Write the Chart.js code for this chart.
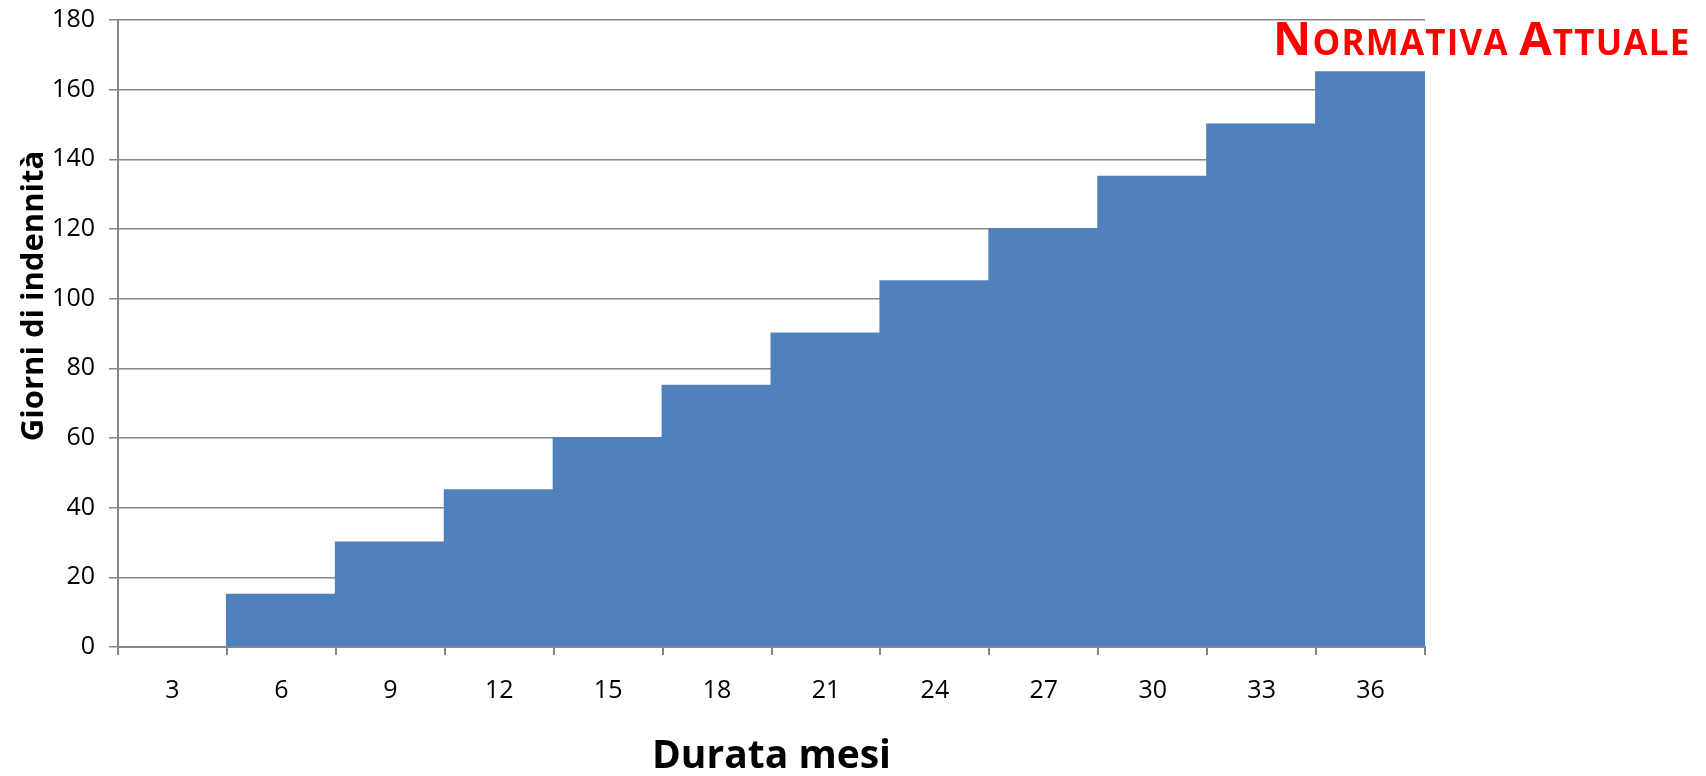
<!DOCTYPE html>
<html>
<head>
<meta charset="utf-8">
<script src="https://cdn.jsdelivr.net/npm/chart.js@4/dist/chart.umd.min.js"></script>
<style>
  html, body { margin: 0; padding: 0; background: #ffffff; }
  #wrap { position: relative; width: 1706px; height: 776px; }
</style>
</head>
<body>
<div id="wrap"><canvas id="chart" width="1706" height="776"></canvas></div>
<script>
// Durata del contratto (mesi) e giorni di indennità corrispondenti
const mesi = ['3', '6', '9', '12', '15', '18', '21', '24', '27', '30', '33', '36'];
const giorniIndennita = [0, 15, 30, 45, 60, 75, 90, 105, 120, 135, 150, 165];
const yTicks = [0, 20, 40, 60, 80, 100, 120, 140, 160, 180];

const titoloParti = [
  { text: 'N', big: true },
  { text: 'ORMATIVA ', big: false },
  { text: 'A', big: true },
  { text: 'TTUALE', big: false }
];
const titoloAsseX = 'Durata mesi';
const titoloAsseY = 'Giorni di indennità';

const axisGrey = '#868686';
const font = "'Open Sans', 'Liberation Sans', sans-serif";

// Titolo in maiuscoletto e titoli degli assi
const testiPlugin = {
  id: 'testiGrafico',
  afterDraw(chart) {
    const ctx = chart.ctx;
    const area = chart.chartArea;
    ctx.save();

    // Titolo rosso in alto a destra
    ctx.fillStyle = '#ff0000';
    ctx.textBaseline = 'alphabetic';
    ctx.textAlign = 'left';
    let x = 1273;
    const baseline = 55;
    const spacing = 1.2;
    for (const p of titoloParti) {
      ctx.font = 'bold ' + (p.big ? 47 : 35) + 'px ' + font;
      for (const ch of p.text) {
        ctx.fillText(ch, x, baseline);
        x += ctx.measureText(ch).width + spacing;
      }
    }

    // Titolo asse X
    ctx.fillStyle = '#000000';
    ctx.textAlign = 'center';
    ctx.font = 'bold 39px ' + font;
    ctx.fillText(titoloAsseX, (area.left + area.right) / 2, 768);

    // Titolo asse Y (ruotato)
    ctx.translate(43, 296);
    ctx.rotate(-Math.PI / 2);
    ctx.font = 'bold 31px ' + font;
    ctx.fillText(titoloAsseY, 0, 0);

    ctx.restore();
  }
};

new Chart(document.getElementById('chart'), {
  type: 'bar',
  data: {
    labels: mesi,
    datasets: [{
      data: giorniIndennita,
      backgroundColor: '#4f81bd',
      borderWidth: 0,
      inflateAmount: 1,
      barPercentage: 1.0,
      categoryPercentage: 1.0
    }]
  },
  options: {
    responsive: false,
    animation: false,
    layout: { padding: { top: 20, right: 281, left: 0, bottom: 0 } },
    plugins: {
      legend: { display: false },
      tooltip: { enabled: false },
      title: { display: false }
    },
    scales: {
      x: {
        offset: true,
        grid: {
          offset: true,
          drawOnChartArea: false,
          drawTicks: true,
          tickLength: 8,
          color: axisGrey,
          lineWidth: 2,
          z: 1
        },
        border: { display: true, color: axisGrey, width: 2, z: 1 },
        ticks: {
          color: '#000000',
          padding: 21,
          maxRotation: 0,
          font: { family: font, size: 25 }
        },
        afterFit(scale) { scale.height = 129; }
      },
      y: {
        min: 0,
        max: 180,
        afterBuildTicks(scale) { scale.ticks = yTicks.map(v => ({ value: v })); },
        grid: {
          color: axisGrey,
          lineWidth: 1.5,
          drawTicks: true,
          tickLength: 9
        },
        border: { display: true, color: axisGrey, width: 2, z: 1 },
        ticks: {
          color: '#000000',
          padding: 14,
          font: { family: font, size: 25 }
        },
        afterFit(scale) {
          scale.width = 118;
          scale.paddingTop = 0;
          scale.paddingBottom = 0;
        }
      }
    }
  },
  plugins: [testiPlugin]
});
</script>
</body>
</html>
